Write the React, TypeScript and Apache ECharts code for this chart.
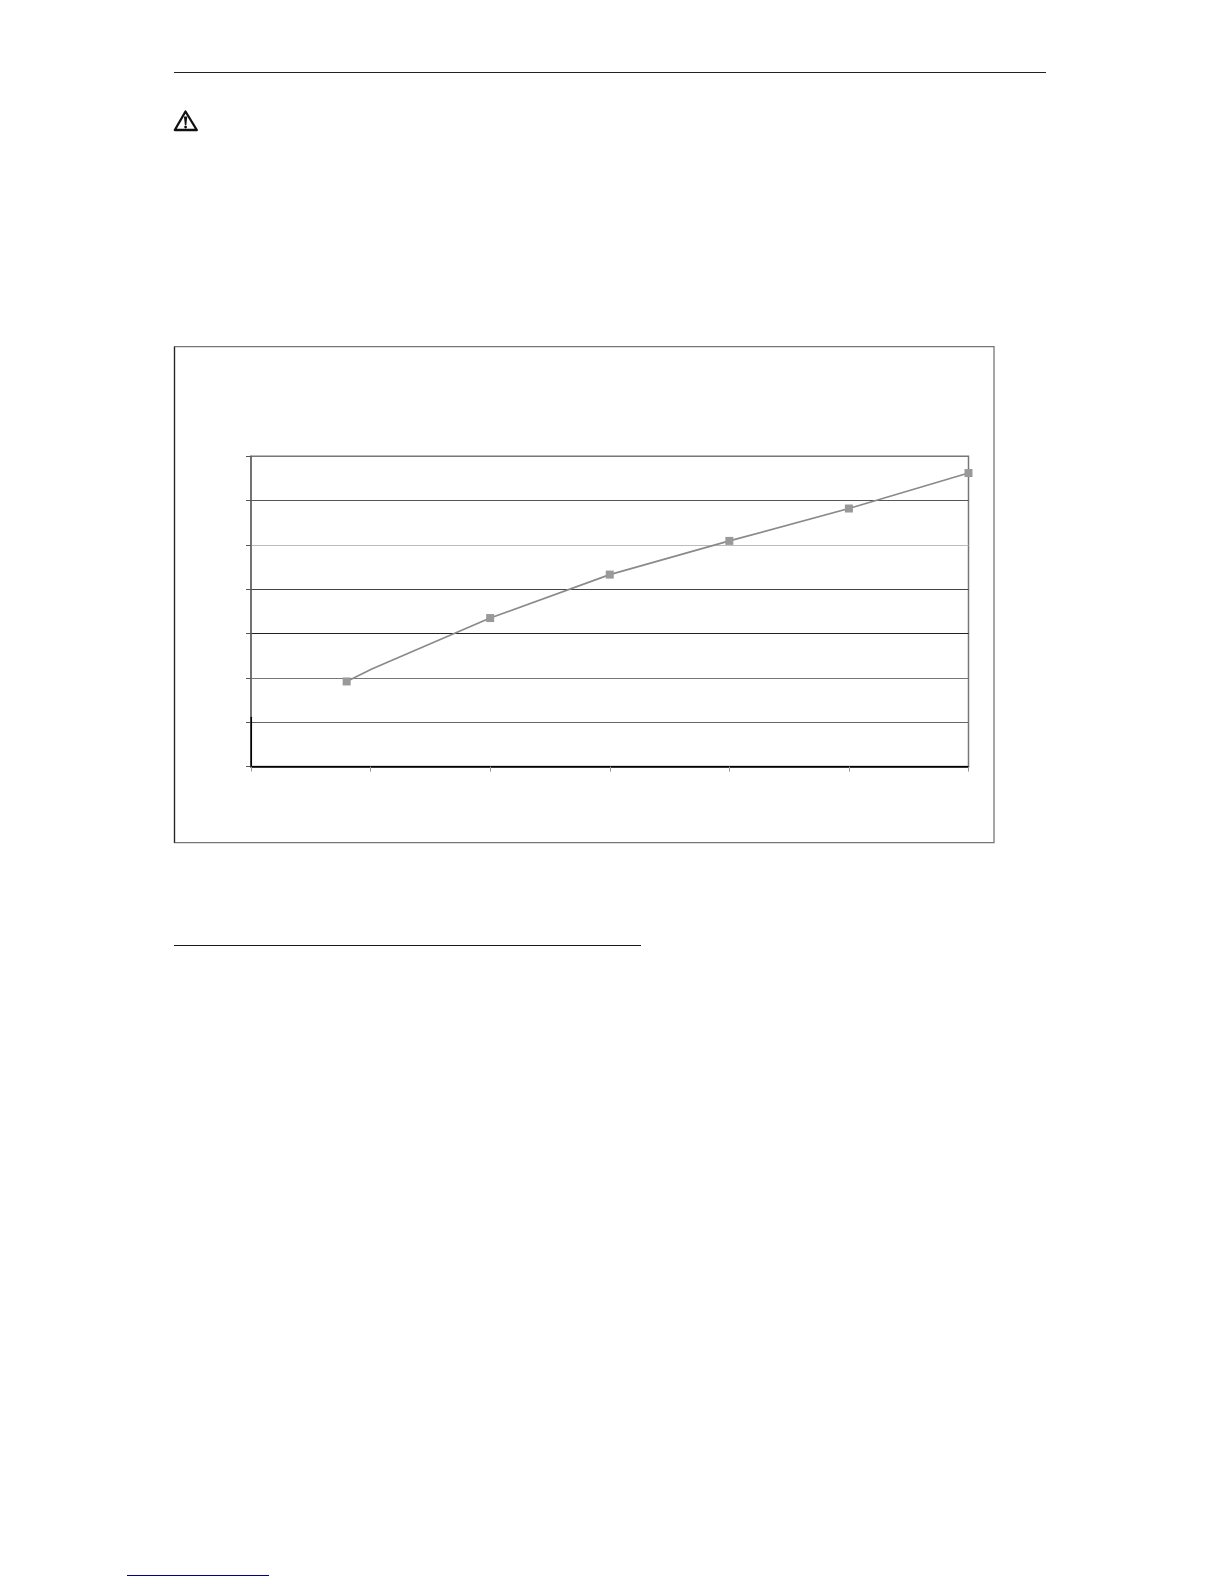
import React, { useEffect, useRef } from "react";
import * as echarts from "echarts";

const xValues = [0.8, 1.01, 2, 3, 4, 5, 6];
const yValues = [1.92, 2.2, 3.35, 4.33, 5.09, 5.82, 6.62];
const hiddenMarkers = [1];
const gridColors = ["#000000", "#666666", "#777777", "#222222", "#444444", "#bbbbbb", "#555555", "#777777"];

export default function App() {
  const ref = useRef<HTMLDivElement>(null);
  useEffect(() => {
    const chart = echarts.init(ref.current!, null, { renderer: "svg" });
    chart.setOption({
      animation: false,
      backgroundColor: "#ffffff",
      grid: {
        left: 251,
        top: 456.2,
        width: 717.5,
        height: 310.4,
        show: true,
        borderColor: "#777777",
        borderWidth: 1.5,
        backgroundColor: "transparent",
      },
      xAxis: {
        type: "value",
        min: 0,
        max: 6,
        interval: 1,
        axisLine: { show: true, lineStyle: { color: "#000000", width: 1.5 } },
        axisTick: { show: true, length: 5, lineStyle: { color: "#999999", width: 1 } },
        axisLabel: { show: false },
        splitLine: { show: false },
      },
      yAxis: {
        type: "value",
        min: 0,
        max: 7,
        interval: 1,
        axisLine: { show: true, lineStyle: { color: "#666666", width: 1.5 } },
        axisTick: { show: true, length: 5, lineStyle: { color: "#555555", width: 1 } },
        axisLabel: { show: false },
        splitLine: { show: true, lineStyle: { color: gridColors, width: 1.2 } },
      },
      series: [
        {
          type: "line",
          smooth: false,
          symbol: "rect",
          symbolSize: 8,
          showAllSymbol: true,
          lineStyle: { color: "#8a8a8a", width: 1.7 },
          itemStyle: { color: "#999999" },
          data: xValues.map((x, i) =>
            hiddenMarkers.includes(i)
              ? { value: [x, yValues[i]], symbol: "none" }
              : { value: [x, yValues[i]] }
          ),
        },
      ],
      graphic: [
        { type: "line", shape: { x1: 174, y1: 72.5, x2: 1046, y2: 72.5 }, style: { stroke: "#222222", lineWidth: 1.2 } },
        { type: "line", shape: { x1: 174, y1: 945.5, x2: 641, y2: 945.5 }, style: { stroke: "#1a1a1a", lineWidth: 1.2 } },
        { type: "line", shape: { x1: 127, y1: 1575.5, x2: 269, y2: 1575.5 }, style: { stroke: "#00008b", lineWidth: 1.2 } },
        { type: "rect", shape: { x: 174.5, y: 346.7, width: 819.5, height: 496 }, style: { fill: "none", stroke: "#777777", lineWidth: 1.3 } },
        { type: "line", shape: { x1: 174.5, y1: 346.7, x2: 174.5, y2: 842.7 }, style: { stroke: "#222222", lineWidth: 1.2 } },
        { type: "line", shape: { x1: 251.3, y1: 717, x2: 251.3, y2: 766.6 }, style: { stroke: "#000000", lineWidth: 1.5 }, z: 10 },
        {
          type: "polygon",
          shape: { points: [[185.5, 111.5], [196.8, 130], [174.8, 130]] },
          style: { fill: "#ffffff", stroke: "#111111", lineWidth: 2.3, lineJoin: "round" },
        },
        { type: "polygon", shape: { points: [[183.9, 116.5], [187.3, 116.5], [186.3, 125], [184.9, 125]] }, style: { fill: "#111111" } },
        { type: "circle", shape: { cx: 185.6, cy: 127, r: 1.4 }, style: { fill: "#111111" } },
      ],
    });
    return () => chart.dispose();
  }, []);
  return (
    <div
      ref={ref}
      style={{ position: "absolute", left: 0, top: 0, width: 1224, height: 1584 }}
    />
  );
}
